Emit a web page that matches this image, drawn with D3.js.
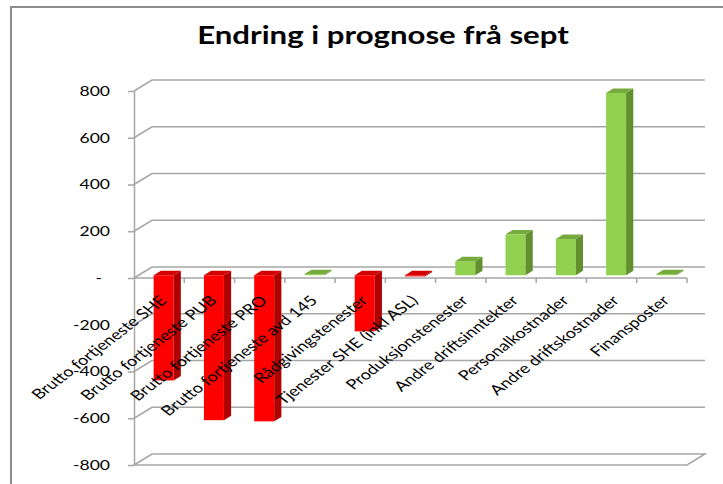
<!DOCTYPE html>
<html>
<head>
<meta charset="utf-8">
<script src="https://cdn.jsdelivr.net/npm/d3@7"></script>
<style>
  body { margin: 0; background: #fff; }
  text { font-family: Lato, "Open Sans", sans-serif; fill: #000; }
</style>
</head>
<body>
<script>
// data
var categories = [
    "Brutto fortjeneste SHE",
    "Brutto fortjeneste PUB",
    "Brutto fortjeneste PRO",
    "Brutto fortjeneste avd 145",
    "Rådgivingstenester",
    "Tjenester SHE (inkl ASL)",
    "Produksjonstenester",
    "Andre driftsinntekter",
    "Personalkostnader",
    "Andre driftskostnader",
    "Finansposter"
];
var values = [-450, -620, -625, 5, -240, -5, 60, 175, 155, 780, 5];
var yTicks = [-800, -600, -400, -200, 0, 200, 400, 600, 800];
var title = "Endring i prognose frå sept";

var svgWidth = 723, svgHeight = 484;
var DX = 18, DY = -11;       // depth of the 3d box
var f0 = 0.25, f1 = 0.65;    // bar position inside the depth
var barW = 20;
var S = 1.3;                 // text looks stretched sideways in the picture
var grid = '#a6a6a6';

var svg = d3.select('body')
    .append('svg')
    .attr('width', svgWidth)
    .attr('height', svgHeight);

// chart border (top + left visible)
svg.append('path')
    .attr('d', 'M11,484 L11,7 L723,7')
    .attr('fill', 'none')
    .attr('stroke', '#8c8c8c')
    .attr('stroke-width', 2);

// title
svg.append('text')
    .attr('transform', `translate(383,44) scale(${S},1)`)
    .attr('text-anchor', 'middle')
    .attr('font-weight', 'bold')
    .attr('font-size', 24)
    .text(title);

var x = d3.scaleBand().domain(categories).range([134, 687]);
var y = d3.scaleLinear().domain([-800, 800]).range([465, 91]);
var xEnd = x.range()[1];

// back wall gridlines with left slants
yTicks.forEach(function(t) {
    if (t === -800) return;
    svg.append('path')
        .attr('d', `M${x.range()[0]},${y(t)} L${x.range()[0] + DX},${y(t) + DY} L${xEnd + DX},${y(t) + DY}`)
        .attr('fill', 'none')
        .attr('stroke', grid)
        .attr('stroke-width', 1.5);
});

// floor
var yf = y(-800);
svg.append('path')
    .attr('d', `M${x.range()[0]},${yf} L${x.range()[0] + DX},${yf + DY} L${xEnd + DX},${yf + DY} L${xEnd},${yf} Z`)
    .attr('fill', 'none')
    .attr('stroke', grid)
    .attr('stroke-width', 1.5);

// y axis
var yAxis = d3.axisLeft(y)
    .tickValues(yTicks)
    .tickSize(6)
    .tickSizeOuter(0)
    .tickFormat(function(d) { return d === 0 ? '-' : d; });

var yg = svg.append('g')
    .attr('transform', `translate(${x.range()[0]},0)`)
    .call(yAxis);
yg.select('.domain').attr('stroke', grid).attr('stroke-width', 1.5);
yg.selectAll('.tick line').attr('stroke', grid).attr('stroke-width', 1.5);
yg.selectAll('.tick text')
    .attr('x', 0)
    .attr('font-size', 13.5)
    .attr('font-family', 'Lato, sans-serif')
    .attr('fill', '#222')
    .attr('transform', function(d) { return `translate(${d === 0 ? -32 : -24},0) scale(${S},1)`; });

// category axis at zero
var y0 = y(0);
svg.append('line')
    .attr('x1', x.range()[0]).attr('x2', xEnd)
    .attr('y1', y0).attr('y2', y0)
    .attr('stroke', grid).attr('stroke-width', 1.5);
svg.selectAll('.xtick')
    .data(categories.slice(1).map(function(c) { return x(c); }).concat([xEnd]))
    .enter()
    .append('line')
    .attr('class', 'xtick')
    .attr('x1', function(d) { return d; }).attr('x2', function(d) { return d; })
    .attr('y1', y0).attr('y2', y0 + 5)
    .attr('stroke', grid).attr('stroke-width', 1.5);

// bars
var red = { front: '#ff0000', side: '#b00000', top: '#d40000' };
var green = { front: '#92d050', side: '#62902f', top: '#74ab3c' };
var ddx = DX * (f1 - f0), ddy = DY * (f1 - f0);

var bars = svg.selectAll('.bar')
    .data(values)
    .enter()
    .append('g')
    .attr('class', 'bar');

bars.each(function(v, i) {
    var g = d3.select(this);
    var col = v < 0 ? red : green;
    var x0 = x(categories[i]) + (x.bandwidth() - barW) / 2 + DX * f0;
    var top = y(Math.max(v, 0)) + DY * f0;
    var bot = y(Math.min(v, 0)) + DY * f0;
    g.append('rect')
        .attr('x', x0).attr('y', top)
        .attr('width', barW).attr('height', bot - top)
        .attr('fill', col.front);
    g.append('path')
        .attr('d', `M${x0 + barW},${top} L${x0 + barW + ddx},${top + ddy} L${x0 + barW + ddx},${bot + ddy} L${x0 + barW},${bot} Z`)
        .attr('fill', col.side);
    g.append('path')
        .attr('d', `M${x0},${top} L${x0 + ddx},${top + ddy} L${x0 + barW + ddx},${top + ddy} L${x0 + barW},${top} Z`)
        .attr('fill', col.top);
});

// category labels
svg.selectAll('.xlabel')
    .data(categories)
    .enter()
    .append('text')
    .attr('class', 'xlabel')
    .attr('text-anchor', 'end')
    .attr('font-size', 14)
    .attr('fill', '#111')
    .attr('dy', '0.35em')
    .attr('transform', function(d) {
        return `translate(${x(d) + x.bandwidth() / 2 + 4},${y0 + 20}) scale(${S},1) rotate(-45)`;
    })
    .text(function(d) { return d; });
</script>
</body>
</html>
